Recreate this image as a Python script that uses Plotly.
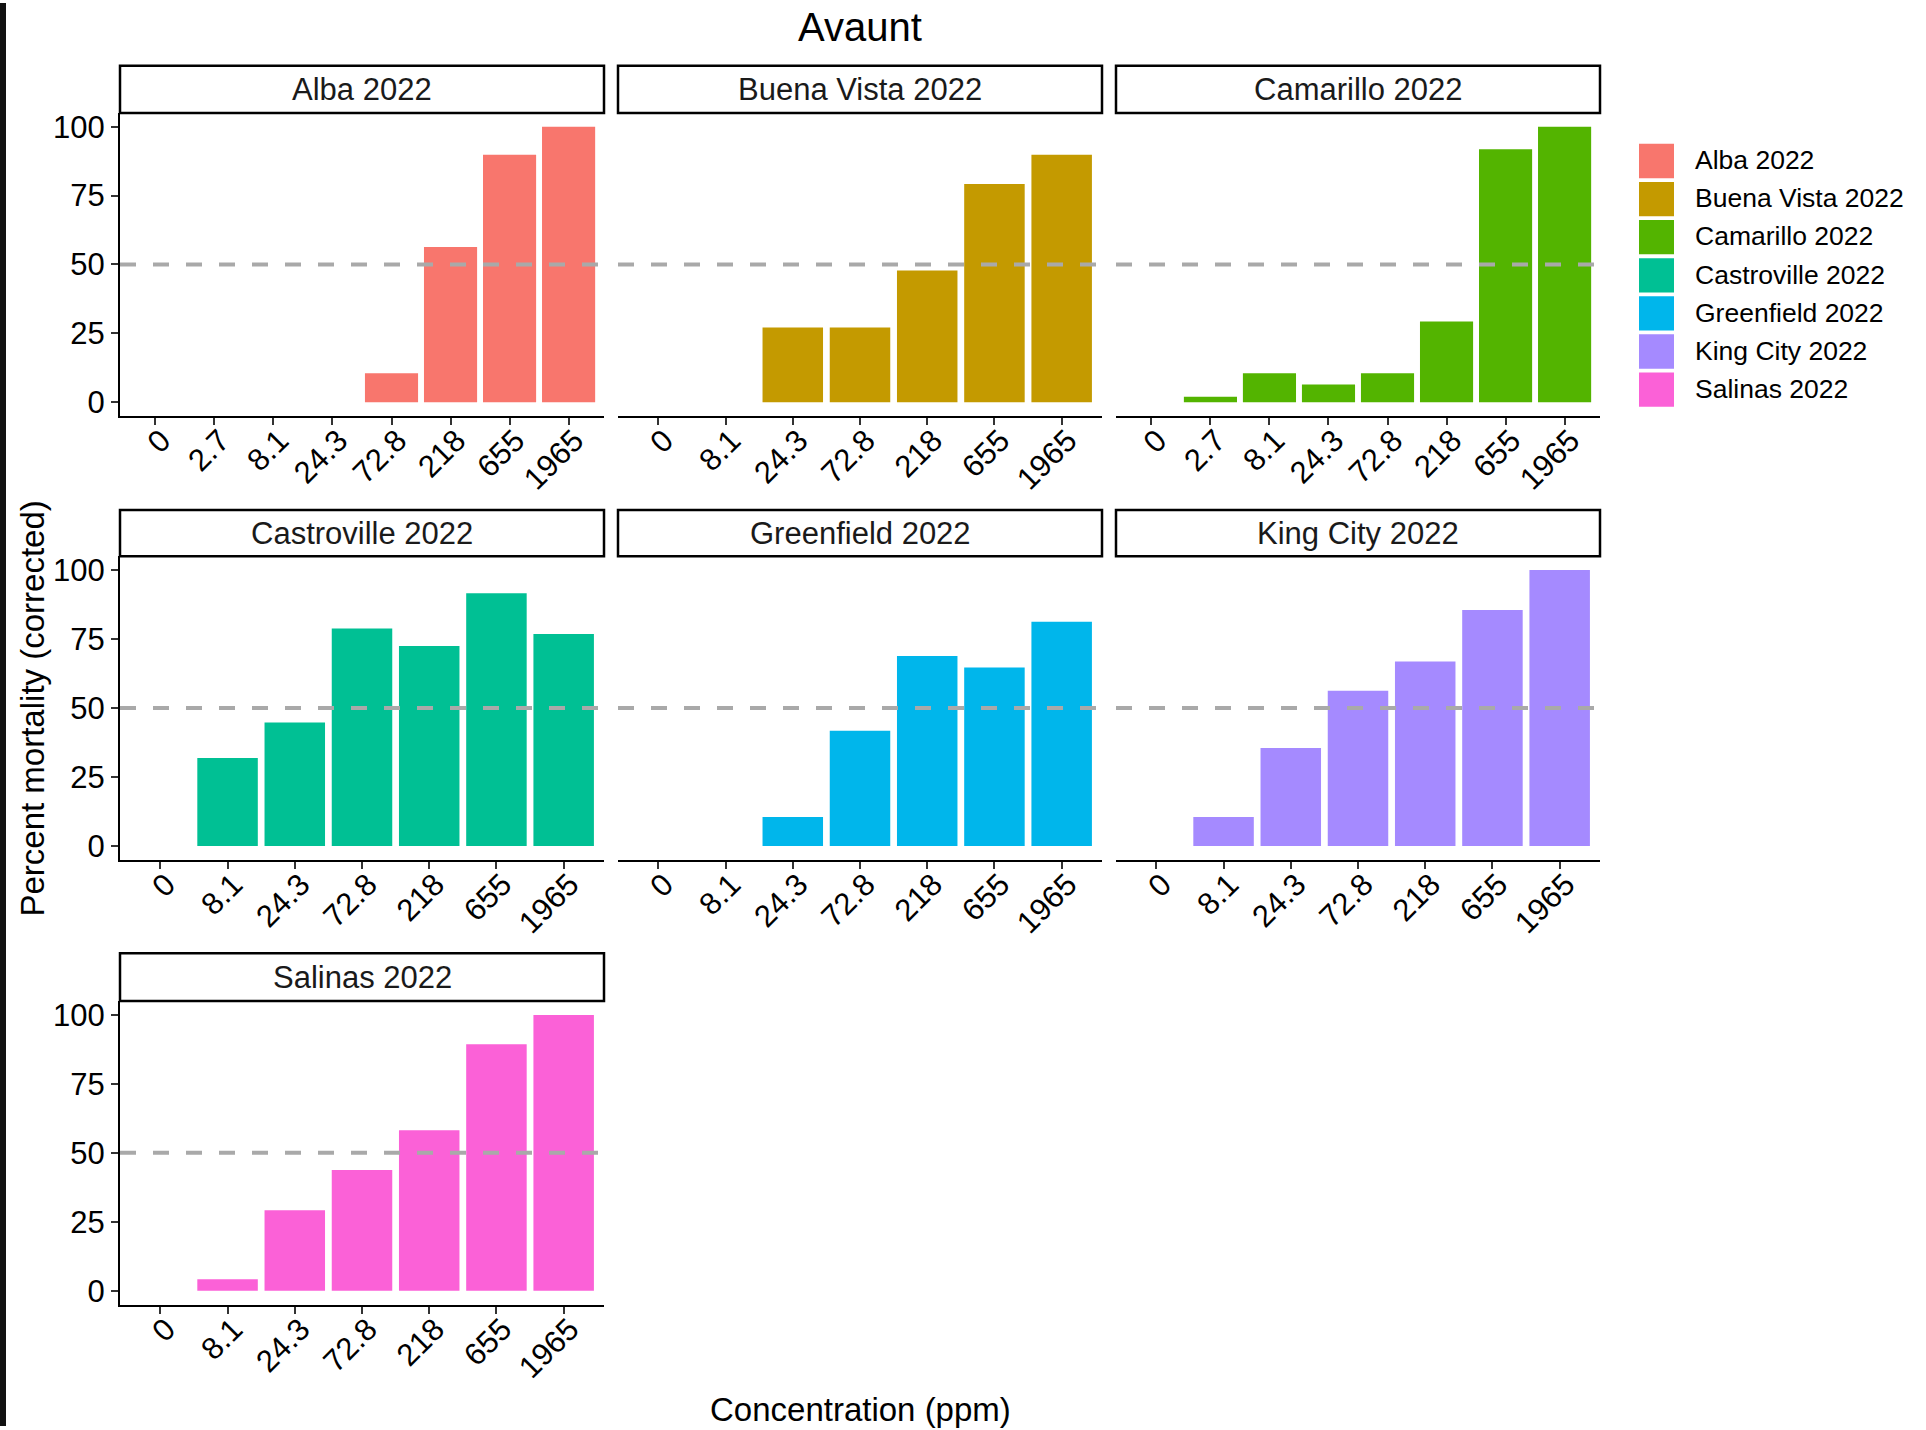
import plotly.graph_objects as go

W, H = 1926, 1430

# ---------------- data ----------------
sites = ["Alba 2022", "Buena Vista 2022", "Camarillo 2022", "Castroville 2022",
         "Greenfield 2022", "King City 2022", "Salinas 2022"]
colors = ["#F8766D", "#C49A00", "#53B400", "#00C094", "#00B6EB", "#A58AFF", "#FB61D7"]

conc_alba = ["0", "2.7", "8.1", "24.3", "72.8", "218", "655", "1965"]
mort_alba = [0, 0, 0, 0, 10.5, 56.3, 89.8, 100]

conc_buena = ["0", "8.1", "24.3", "72.8", "218", "655", "1965"]
mort_buena = [0, 0, 27.1, 27.1, 47.8, 79.2, 89.8]

conc_camarillo = ["0", "2.7", "8.1", "24.3", "72.8", "218", "655", "1965"]
mort_camarillo = [0, 2.0, 10.5, 6.4, 10.5, 29.3, 91.8, 100]

conc_castro = ["0", "8.1", "24.3", "72.8", "218", "655", "1965"]
mort_castro = [0, 31.9, 44.8, 78.8, 72.5, 91.6, 76.8]

conc_green = ["0", "8.1", "24.3", "72.8", "218", "655", "1965"]
mort_green = [0, 0, 10.5, 41.8, 68.9, 64.7, 81.3]

conc_king = ["0", "8.1", "24.3", "72.8", "218", "655", "1965"]
mort_king = [0, 10.5, 35.5, 56.3, 66.9, 85.5, 100]

conc_salinas = ["0", "8.1", "24.3", "72.8", "218", "655", "1965"]
mort_salinas = [0, 4.2, 29.2, 43.8, 58.2, 89.4, 100]

y_ticks = [0, 25, 50, 75, 100]
threshold = 50

panel_x = [conc_alba, conc_buena, conc_camarillo, conc_castro, conc_green, conc_king, conc_salinas]
panel_y = [mort_alba, mort_buena, mort_camarillo, mort_castro, mort_green, mort_king, mort_salinas]

# ---------------- layout geometry (px) ----------------
cols_px = [(120, 604), (618, 1102), (1116, 1600)]
rows_px = [  # strip top, plot top, plot bottom
    (63, 110.5, 415),
    (509.5, 556, 861),
    (955, 1003, 1308),
]

FONT = "Liberation Sans, Arial, sans-serif"

def fx(px):
    return px / W

def fy(py):
    return 1 - py / H

fig = go.Figure()
layout = dict(
    width=W, height=H,
    margin=dict(l=0, r=0, t=0, b=0),
    paper_bgcolor="white", plot_bgcolor="white",
    showlegend=False,
    font=dict(family=FONT, color="black"),
)
shapes = []
annotations = []

for i, (site, col, xs, ys) in enumerate(zip(sites, colors, panel_x, panel_y)):
    r, c = divmod(i, 3)
    x0, x1 = cols_px[c]
    st, pt, pb = rows_px[r]
    n = i + 1
    xa = "x" if n == 1 else f"x{n}"
    ya = "y" if n == 1 else f"y{n}"
    fig.add_trace(go.Bar(x=xs, y=ys, width=0.9, marker=dict(color=col, line=dict(width=0)),
                         name=site, xaxis=xa, yaxis=ya))
    layout[f"xaxis{'' if n == 1 else n}"] = dict(
        domain=[fx(x0), fx(x1)], anchor=ya, type="category",
        categoryorder="array", categoryarray=xs,
        range=[-0.6, len(xs) - 0.4],
        showline=True, linecolor="black", linewidth=2,
        ticks="outside", ticklen=7, tickwidth=2, tickcolor="#333333",
        tickangle=-45, tickfont=dict(size=31, color="black", family=FONT),
        ticklabelstandoff=-15, ticklabelshift=6,
        showgrid=False, zeroline=False, fixedrange=True,
    )
    first_col = (c == 0)
    layout[f"yaxis{'' if n == 1 else n}"] = dict(
        domain=[fy(pb), fy(pt)], anchor=xa,
        range=[-5, 105], tickvals=y_ticks,
        showline=first_col, linecolor="black", linewidth=2,
        ticks="outside" if first_col else "", ticklen=7, tickwidth=2, tickcolor="#333333",
        showticklabels=first_col, tickfont=dict(size=31, color="black", family=FONT),
        showgrid=False, zeroline=False, fixedrange=True,
    )
    # dashed 50% line
    shapes.append(dict(type="line", xref=f"{xa} domain", yref=ya, x0=0, x1=1,
                       y0=threshold, y1=threshold, layer="above",
                       line=dict(color="#A9A9A9", width=4, dash="16px,17px")))
    # strip
    shapes.append(dict(type="rect", xref="paper", yref="paper",
                       x0=fx(x0), x1=fx(x1), y0=fy(pt), y1=fy(st),
                       fillcolor="white", line=dict(color="black", width=2.5)))
    annotations.append(dict(text=site, xref="paper", yref="paper",
                            x=fx((x0 + x1) / 2), y=fy((st + pt) / 2),
                            xanchor="center", yanchor="middle", showarrow=False,
                            font=dict(size=31, color="#1a1a1a", family=FONT)))

# legend (drawn manually to match large keys)
leg_top0 = 141.5
leg_step = 38.3
for k, (site, col) in enumerate(zip(sites, colors)):
    t = leg_top0 + k * leg_step
    shapes.append(dict(type="rect", xref="paper", yref="paper",
                       x0=fx(1639), x1=fx(1674), y0=fy(t + 34.5), y1=fy(t),
                       fillcolor=col, line=dict(width=0)))
    annotations.append(dict(text=site, xref="paper", yref="paper",
                            x=fx(1693), y=fy(t + 16.5), xanchor="left", yanchor="middle",
                            showarrow=False, font=dict(size=26.5, color="black", family=FONT)))

# title and axis titles
annotations.append(dict(text="Avaunt", xref="paper", yref="paper", x=fx(860), y=fy(24.5),
                        xanchor="center", yanchor="middle", showarrow=False,
                        font=dict(size=40, color="black", family=FONT)))
annotations.append(dict(text="Percent mortality (corrected)", xref="paper", yref="paper",
                        x=fx(33), y=fy(709), textangle=-90, xanchor="center", yanchor="middle",
                        showarrow=False, font=dict(size=33, color="black", family=FONT)))
annotations.append(dict(text="Concentration (ppm)", xref="paper", yref="paper",
                        x=fx(860), y=fy(1413), xanchor="center", yanchor="middle",
                        showarrow=False, font=dict(size=33, color="black", family=FONT)))

# black strip along the left edge of the picture
shapes.append(dict(type="rect", xref="paper", yref="paper", x0=0, x1=fx(6), y0=0, y1=1,
                   fillcolor="#111111", line=dict(width=0), layer="above"))

layout["shapes"] = shapes
layout["annotations"] = annotations
fig.update_layout(**layout)
fig.write_html("out.html", config={"displayModeBar": False},
               post_script="document.body.style.margin='0';document.body.style.overflow='hidden';")
